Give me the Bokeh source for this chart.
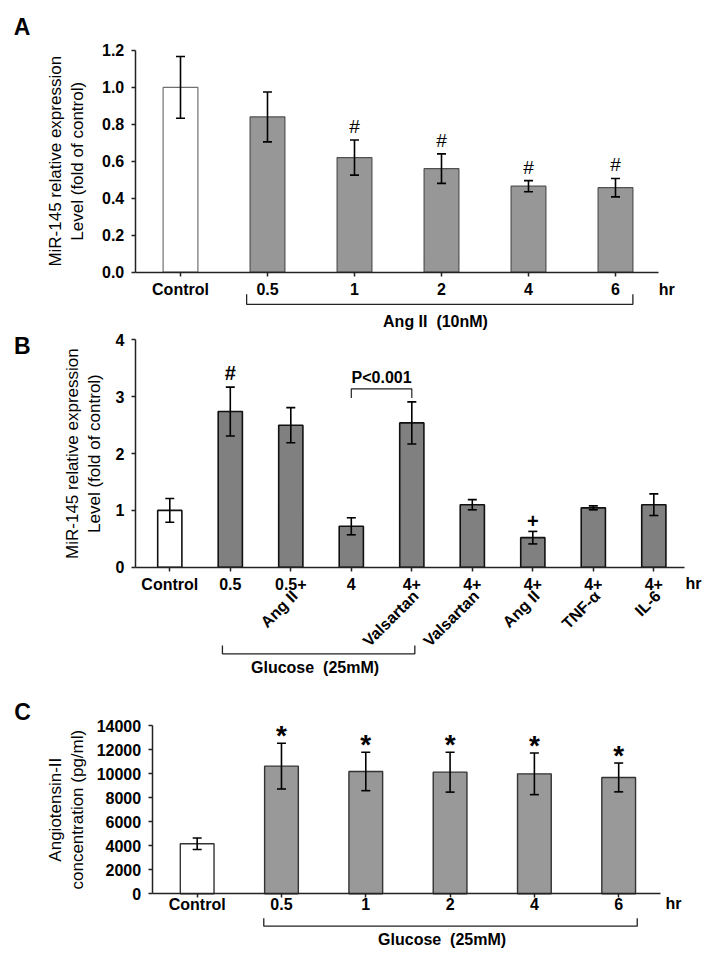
import math
from bokeh.plotting import figure
from bokeh.models import ColumnDataSource, Range1d, FixedTicker, PrintfTickFormatter
from bokeh.layouts import column
from bokeh.core.properties import value
from bokeh.embed import file_html
from bokeh.resources import INLINE

FONT = "Liberation Sans"
NB2 = "\u00a0 "  # double space that survives SVG whitespace collapsing

# ---------------- data ----------------
# Panel A: MiR-145 expression after Ang II (10 nM)
a_labels = ["Control", "0.5", "1", "2", "4", "6"]
a_means = [1.00, 0.84, 0.62, 0.56, 0.465, 0.457]
a_errs = [0.167, 0.135, 0.095, 0.08, 0.03, 0.05]
a_marks = ["", "", "#", "#", "#", "#"]
a_group = "Ang II" + NB2 + "(10nM)"
a_ticks = [0.0, 0.2, 0.4, 0.6, 0.8, 1.0, 1.2]
a_title = "MiR-145 relative expression\nLevel (fold of control)"

# Panel B: MiR-145 expression after glucose (25 mM) and co-treatments
b_labels = ["Control", "0.5", "0.5+", "4", "4+", "4+", "4+", "4+", "4+"]
b_sublabels = ["", "", "Ang II", "", "Valsartan", "Valsartan", "Ang II", "TNF-α", "IL-6"]
b_means = [1.00, 2.74, 2.50, 0.72, 2.54, 1.10, 0.52, 1.045, 1.10]
b_errs = [0.21, 0.43, 0.31, 0.15, 0.37, 0.09, 0.11, 0.035, 0.19]
b_marks = ["", "#", "", "", "", "", "+", "", ""]
b_group = "Glucose" + NB2 + "(25mM)"
b_pvalue = "P<0.001"
b_ticks = [0, 1, 2, 3, 4]
b_title = "MiR-145 relative expression\nLevel (fold of control)"

# Panel C: Angiotensin-II concentration after glucose (25 mM)
c_labels = ["Control", "0.5", "1", "2", "4", "6"]
c_means = [4160, 10620, 10180, 10120, 9980, 9680]
c_errs = [480, 1900, 1600, 1660, 1730, 1200]
c_marks = ["", "*", "*", "*", "*", "*"]
c_group = "Glucose" + NB2 + "(25mM)"
c_ticks = [0, 2000, 4000, 6000, 8000, 10000, 12000, 14000]
c_title = "Angiotensin-II\nconcentration (pg/ml)"

BAR_W = 0.4
W = 718


def panel(height, xr, yr, ax_x, ax_x_end, ymax, ticks, fmt, labels, standoff):
    p = figure(width=W, height=height, x_range=Range1d(*xr), y_range=Range1d(*yr),
               output_backend="svg", toolbar_location=None,
               min_border_left=0, min_border_right=0, min_border_top=0, min_border_bottom=0)
    p.title.visible = False
    p.xgrid.visible = False
    p.ygrid.visible = False
    p.outline_line_color = None
    for ax in (p.xaxis, p.yaxis):
        ax.axis_line_color = "#222222"
        ax.axis_line_width = 1.5
        ax.major_tick_line_color = "#222222"
        ax.major_tick_line_width = 1.5
        ax.major_tick_out = 4
        ax.major_tick_in = 0
        ax.minor_tick_line_color = None
        ax.major_label_text_font = FONT
        ax.major_label_text_font_style = "bold"
        ax.major_label_text_font_size = "16px"
        ax.major_label_text_color = "black"
    p.xaxis.fixed_location = 0
    p.xaxis.bounds = (ax_x, ax_x_end)
    p.xaxis.ticker = FixedTicker(ticks=list(range(len(labels))))
    p.xaxis.major_label_overrides = {i: l for i, l in enumerate(labels)}
    p.xaxis.major_label_standoff = standoff
    p.yaxis.fixed_location = ax_x
    p.yaxis.bounds = (0, ymax)
    p.yaxis.ticker = FixedTicker(ticks=ticks)
    p.yaxis.formatter = PrintfTickFormatter(format=fmt)
    p.yaxis.major_label_standoff = 7
    return p


def add_bars(p, means, errs, marks, fills, lines, lw, mark_size, mark_style, mark_off):
    idx = list(range(len(means)))
    src = ColumnDataSource(dict(
        x=idx, top=means,
        upper=[m + e for m, e in zip(means, errs)],
        lower=[m - e for m, e in zip(means, errs)],
        mark=marks, fill=fills, line=lines))
    p.vbar(x="x", top="top", width=BAR_W, bottom=0, source=src,
           fill_color="fill", line_color="line", line_width=lw)
    p.segment(x0="x", y0="lower", x1="x", y1="upper", source=src,
              line_color="black", line_width=1.6)
    for col in ("upper", "lower"):
        p.scatter(x="x", y=col, source=src, marker="dash", size=9,
                  line_color="black", line_width=1.6)
    p.text(x="x", y="upper", text="mark", source=src, y_offset=mark_off,
           text_align="center", text_baseline="bottom",
           text_font=value(FONT), text_font_size=mark_size,
           text_font_style=mark_style, text_color="black")
    return idx


def bracket(p, x0, x1, y, ytop, lw=1.3):
    p.line(x=[x0, x0, x1, x1], y=[ytop, y, y, ytop], line_color="#222222", line_width=lw)


def txt(p, x, y, text, size="16px", style="bold", angle=0.0, x_offset=0):
    p.text(x=[x], y=[y], text=[text], angle=angle, x_offset=x_offset,
           text_align="center", text_baseline="middle",
           text_font=value(FONT), text_font_size=size,
           text_font_style=style, text_color="black")


# ---------------- Panel A ----------------  (page rows 0..330)
nA = len(a_labels)
pA = panel(330, (-2.069, 6.184), (-0.3166, 1.4706), -0.52, nA - 0.51, 1.2,
           a_ticks, "%.1f", a_labels, 5)
add_bars(pA, a_means, a_errs, a_marks,
         ["white"] + ["#979797"] * (nA - 1), ["#707070"] + ["#505050"] * (nA - 1),
         1.2, "19px", "normal", -3)
bracket(pA, 1 - BAR_W / 2 - 0.04, nA - 1 + BAR_W / 2, -0.175, -0.12)
txt(pA, (1 + nA - 1) / 2, -0.267, a_group, x_offset=-6)
txt(pA, nA - 1 + 0.59, -0.095, "hr")
txt(pA, -1.82, 1.325, "A", size="23px")
txt(pA, -1.31, 0.6, a_title, size="17px", style="normal", angle=math.pi / 2)

# ---------------- Panel B ----------------  (page rows 330..690)
nB = len(b_labels)
pB = panel(360, (-2.798, 9.069), (-2.171, 4.1672), -0.567, nB - 0.5, 4,
           b_ticks, "%d", b_labels, 5)
add_bars(pB, b_means, b_errs, b_marks,
         ["white"] + ["#808080"] * (nB - 1), ["#111111"] * nB,
         1.6, "20px", "bold", -3)
pB.text(x=list(range(nB)), y=[-0.46] * nB, text=b_sublabels, angle=math.pi / 4,
        x_offset=4, text_align="right", text_baseline="middle",
        text_font=value(FONT), text_font_size="16px", text_font_style="bold",
        text_color="black")
bracket(pB, 1 - 0.13, 4 + 0.05, -1.525, -1.38)
txt(pB, (1 + 4) / 2, -1.76, b_group, x_offset=-6)
txt(pB, nB - 1 + 0.655, -0.29, "hr")
txt(pB, -2.436, 3.90, "B", size="23px")
txt(pB, -1.426, 2.0, b_title, size="17px", style="normal", angle=math.pi / 2)
# P-value bracket between "4" and "4+ Valsartan"
i0, i1 = 3, 4
top_b = max(b_means[i0] + b_errs[i0], b_means[i1] + b_errs[i1])
bracket(pB, i0, i1, top_b + 0.23, top_b + 0.07, lw=1.2)
pB.text(x=[(i0 + i1) / 2], y=[top_b + 0.23], text=[b_pvalue], y_offset=-3,
        text_align="center", text_baseline="bottom", text_font=value(FONT),
        text_font_size="16px", text_font_style="bold", text_color="black")

# ---------------- Panel C ----------------  (page rows 690..964)
nC = len(c_labels)
pC = panel(274, (-2.333, 6.184), (-5882, 16913), -0.534, nC - 0.504, 14000,
           c_ticks, "%d", c_labels, -2)
add_bars(pC, c_means, c_errs, c_marks,
         ["white"] + ["#999999"] * (nC - 1), ["#333333"] * nC,
         1.4, "28px", "bold", 8)
bracket(pC, 1 - BAR_W / 2 - 0.01, nC - 1 + BAR_W / 2 + 0.02, -2695, -2030)
txt(pC, (1 + nC - 1) / 2, -3827, c_group, x_offset=-8)
txt(pC, nC - 1 + 0.65, -807, "hr")
txt(pC, -2.07, 15107, "C", size="23px")
txt(pC, -1.55, 7000, c_title, size="17px", style="normal", angle=math.pi / 2)

layout = column(pA, pB, pC)
open("out.html", "w").write(file_html(layout, INLINE))
